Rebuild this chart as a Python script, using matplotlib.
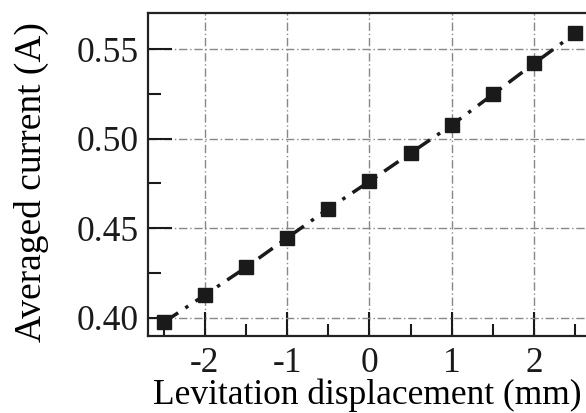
import matplotlib
matplotlib.use("Agg")
import matplotlib.pyplot as plt
from matplotlib.ticker import MultipleLocator

displacement = [-2.5, -2.0, -1.5, -1.0, -0.5, 0.0, 0.5, 1.0, 1.5, 2.0, 2.5]
current = [0.3974, 0.4127, 0.4281, 0.4446, 0.4608, 0.4761,
           0.4919, 0.5076, 0.5247, 0.5420, 0.5588]

x_ticks = [-2, -1, 0, 1, 2]
y_ticks = [0.40, 0.45, 0.50, 0.55]

plt.rcParams["font.family"] = ["Liberation Serif", "DejaVu Serif"]

fig = plt.figure(figsize=(5.86, 4.13), dpi=100)
ax = fig.add_axes([0.2526, 0.1864, 0.7474, 0.7821])

ax.plot(displacement, current, color="#1a1a1a", linestyle=(0, (5, 2.5, 1, 2.5)),
        linewidth=2.5, marker="s", markersize=10.5, zorder=3)

ax.set_xlim(-2.69, 2.63)
ax.set_ylim(0.3898, 0.5701)
ax.set_xticks(x_ticks)
ax.set_xticklabels([str(t) for t in x_ticks])
ax.set_yticks(y_ticks)
ax.set_yticklabels([f"{t:.2f}" for t in y_ticks])
ax.xaxis.set_minor_locator(MultipleLocator(0.5))
ax.yaxis.set_minor_locator(MultipleLocator(0.025))

ax.grid(True, which="major", color="#888888", linestyle=(0, (6, 2, 1, 2)), linewidth=1.0)

ax.tick_params(which="major", direction="in", length=17, width=1.5,
               labelsize=25.5, top=False, right=False, colors="#1a1a1a")
ax.tick_params(axis="y", which="major", pad=7)
ax.tick_params(axis="x", which="major", pad=8)
ax.tick_params(which="minor", direction="in", length=9, width=1.5,
               top=False, right=False, colors="#1a1a1a")

for side in ["left", "bottom", "top"]:
    ax.spines[side].set_linewidth(1.6)
    ax.spines[side].set_color("#222222")
ax.spines["right"].set_visible(False)

ax.set_xlabel("Levitation displacement (mm)", fontsize=25.5, labelpad=-1)
ax.set_ylabel("Averaged current (A)", fontsize=27)
ax.yaxis.set_label_coords(-0.226, 0.477)

fig.savefig("out.png", dpi=100)
